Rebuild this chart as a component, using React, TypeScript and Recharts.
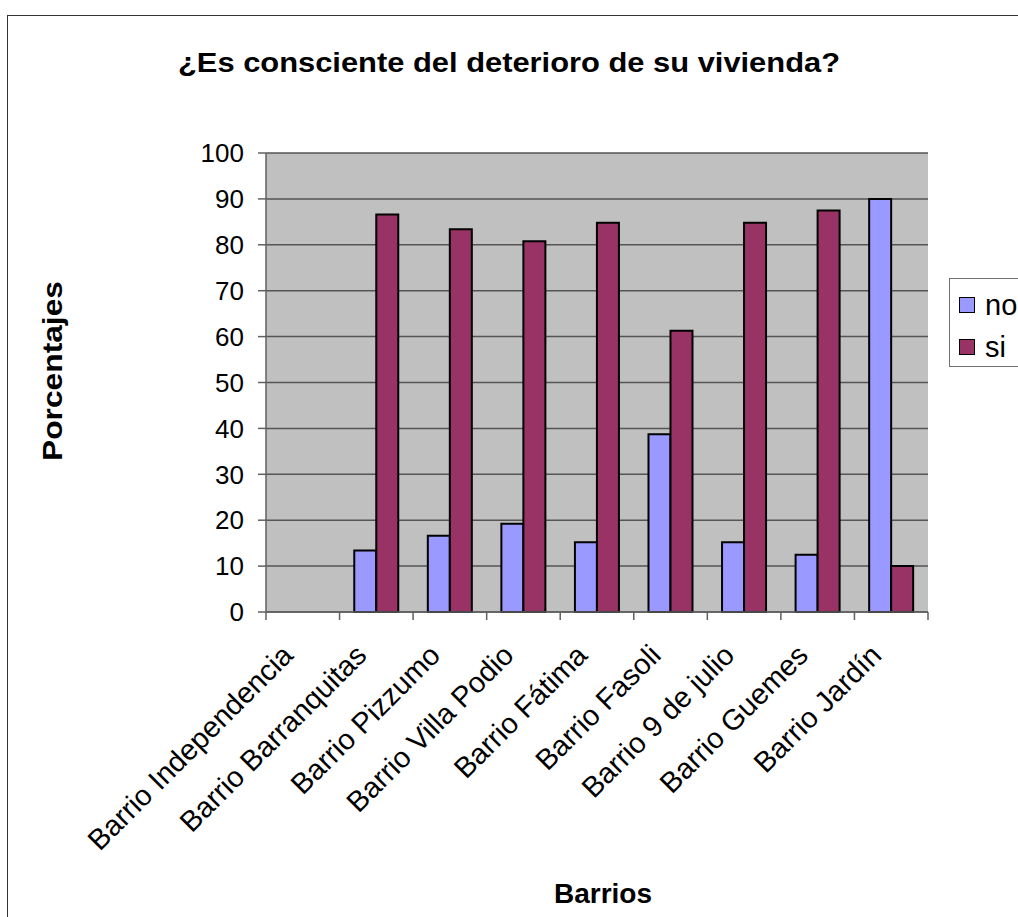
import React from 'react';
import { BarChart, Bar, XAxis, YAxis, CartesianGrid, Legend } from 'recharts';

const categories = [
  'Barrio Independencia',
  'Barrio Barranquitas',
  'Barrio Pizzumo',
  'Barrio Villa Podio',
  'Barrio Fátima',
  'Barrio Fasoli',
  'Barrio 9 de julio',
  'Barrio Guemes',
  'Barrio Jardín',
];
const noValues = [0, 13.4, 16.6, 19.2, 15.2, 38.7, 15.2, 12.5, 90];
const siValues = [0, 86.6, 83.4, 80.8, 84.8, 61.3, 84.8, 87.5, 10];
const yTicks = [0, 10, 20, 30, 40, 50, 60, 70, 80, 90, 100];

const data = categories.map((c, i) => ({ name: c, no: noValues[i], si: siValues[i] }));

const FONT = '"Liberation Sans", Arial, sans-serif';
const W = 1018;
const H = 917;
const PLOT = { left: 266, right: 928, top: 153, bottom: 612 };
const AXIS_COLOR = '#606060';

const XTick = (props: any) => {
  const { x, y, payload, index } = props;
  const band = (PLOT.right - PLOT.left) / categories.length;
  const off = payload && typeof payload.offset === 'number' && payload.offset > 0 ? payload.offset : band / 2;
  const ax = x - 8;
  const ay = y + 37;
  return (
    <g>
      <line x1={x - off} y1={y - 8} x2={x - off} y2={y} stroke={AXIS_COLOR} strokeWidth={1.5} />
      {index === categories.length - 1 && (
        <line x1={x + off} y1={y - 8} x2={x + off} y2={y} stroke={AXIS_COLOR} strokeWidth={1.5} />
      )}
      <text
        x={ax}
        y={ay}
        transform={`rotate(-45 ${ax} ${ay})`}
        textAnchor="end"
        fontSize={29}
        fontFamily={FONT}
        fill="#000"
      >
        {payload.value}
      </text>
    </g>
  );
};

const LegendBox = (props: any) => {
  const payload = props.payload || [];
  return (
    <div
      style={{
        position: 'relative',
        width: 120,
        height: 89,
        border: '1.5px solid #707070',
        background: '#fff',
        boxSizing: 'border-box',
        fontFamily: FONT,
      }}
    >
      {payload.map((p: any, i: number) => (
        <div key={p.value} style={{ position: 'absolute', left: 9, top: 16 + i * 42, height: 20, display: 'flex', alignItems: 'center' }}>
          <div style={{ width: 16, height: 16, background: p.color, border: '1.5px solid #000', boxSizing: 'border-box' }} />
          <span style={{ marginLeft: 10, fontSize: 29, lineHeight: '20px', color: '#000' }}>{p.value}</span>
        </div>
      ))}
    </div>
  );
};

export default function App() {
  return (
    <div style={{ position: 'absolute', left: 0, top: 0, width: W, height: H, overflow: 'hidden', background: '#fff' }}>
      <div
        style={{
          position: 'absolute',
          left: 7,
          top: 15,
          width: 1200,
          height: 1200,
          border: '1.5px solid #333',
          boxSizing: 'border-box',
        }}
      />
      <div style={{ position: 'absolute', left: 0, top: 0 }}>
        <BarChart
          width={W}
          height={H}
          data={data}
          margin={{ top: PLOT.top, right: W - PLOT.right, bottom: 0, left: 0 }}
          barCategoryGap="20%"
          barGap={0}
        >
          <CartesianGrid vertical={false} fill="#C0C0C0" stroke="#555" strokeWidth={1.5} yAxisId="left" />
          <XAxis
            dataKey="name"
            interval={0}
            tickSize={8}
            tickMargin={0}
            tickLine={false}
            tick={<XTick />}
            axisLine={{ stroke: AXIS_COLOR, strokeWidth: 1.5 }}
            height={H - PLOT.bottom}
          />
          <YAxis
            yAxisId="left"
            domain={[0, 100]}
            ticks={yTicks}
            interval={0}
            width={PLOT.left}
            tickSize={8}
            tickMargin={14}
            tick={{ fontSize: 26, fontFamily: FONT, fill: '#000' }}
            tickLine={{ stroke: AXIS_COLOR, strokeWidth: 1.5 }}
            axisLine={{ stroke: AXIS_COLOR, strokeWidth: 1.5 }}
          />
          <YAxis
            yAxisId="right"
            orientation="right"
            domain={[0, 100]}
            width={0}
            tick={false}
            tickLine={false}
            axisLine={{ stroke: '#808080', strokeWidth: 1.5 }}
          />
          <Legend
            layout="horizontal"
            verticalAlign="middle"
            align="center"
            content={<LegendBox />}
            wrapperStyle={{ left: 949, top: 278, width: 120, height: 89 }}
          />
          <Bar yAxisId="left" dataKey="no" name="no" fill="#9999FF" stroke="#000" strokeWidth={2} isAnimationActive={false} />
          <Bar yAxisId="left" dataKey="si" name="si" fill="#993366" stroke="#000" strokeWidth={2} isAnimationActive={false} />
        </BarChart>
      </div>
      <svg width={W} height={H} style={{ position: 'absolute', left: 0, top: 0, pointerEvents: 'none' }}>
        <text x={509} y={72} textAnchor="middle" fontSize={28} fontWeight="bold" fontFamily={FONT} textLength={662} lengthAdjust="spacingAndGlyphs" fill="#000">
          ¿Es consciente del deterioro de su vivienda?
        </text>
        <text x={603} y={903} textAnchor="middle" fontSize={28} fontWeight="bold" fontFamily={FONT} fill="#000">
          Barrios
        </text>
        <text
          x={62}
          y={371}
          transform="rotate(-90 62 371)"
          textAnchor="middle"
          fontSize={28}
          fontWeight="bold"
          fontFamily={FONT}
          textLength={180}
          lengthAdjust="spacingAndGlyphs"
          fill="#000"
        >
          Porcentajes
        </text>
      </svg>
    </div>
  );
}
